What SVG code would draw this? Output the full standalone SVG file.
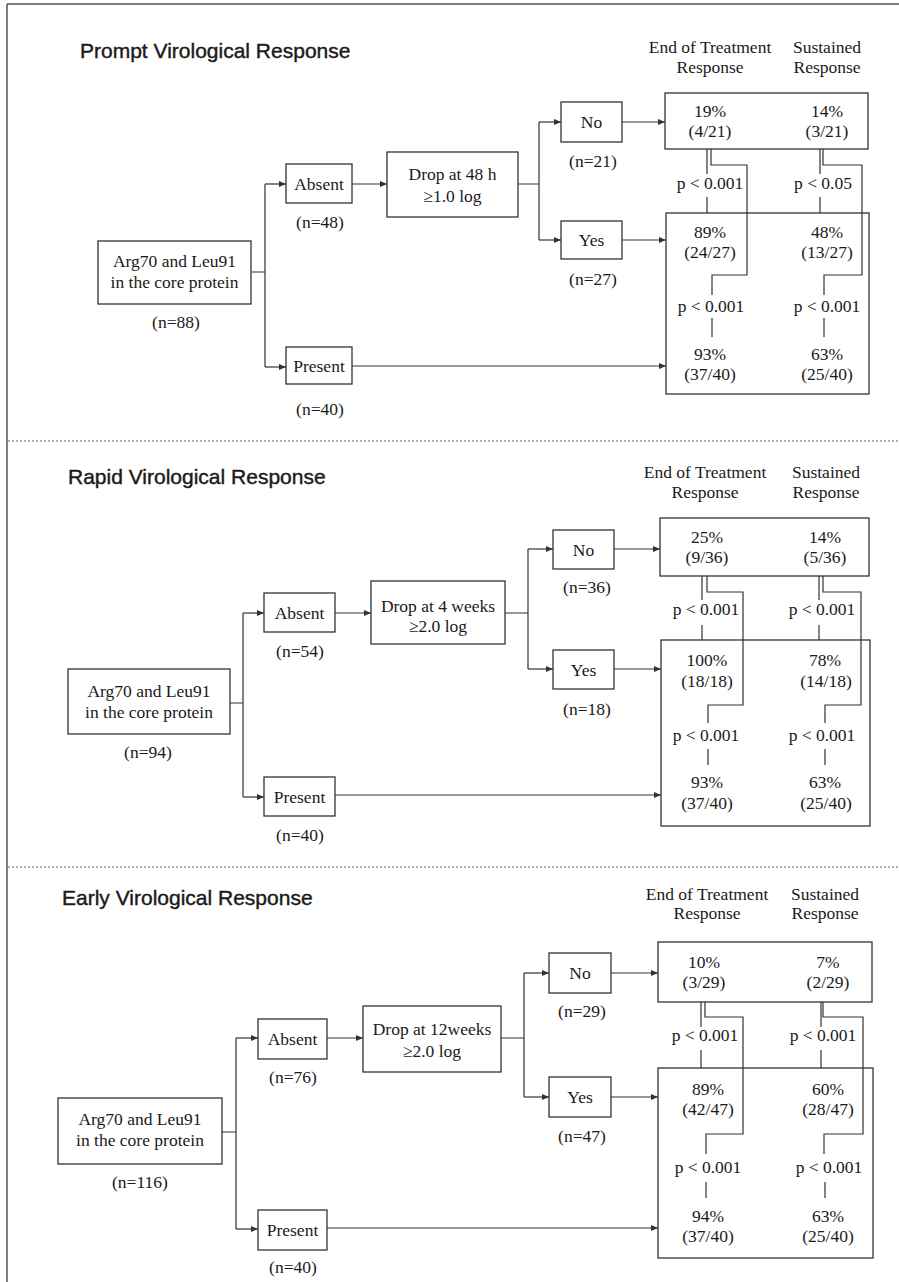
<svg xmlns="http://www.w3.org/2000/svg" width="899" height="1282" viewBox="0 0 899 1282">
<style>
.bx{fill:#fff;stroke:#333;stroke-width:1.3}
.ln{fill:none;stroke:#333;stroke-width:1.2}
.ar{fill:none;stroke:#333;stroke-width:1.2;marker-end:url(#ah)}
.t{font-family:"Liberation Serif","Times New Roman",serif;font-size:17.5px;fill:#1a1a1a;text-anchor:middle}
.ti{font-family:"Liberation Sans",Arial,sans-serif;font-size:21px;fill:#1a1a1a;stroke:#1a1a1a;stroke-width:0.4}
.sep{stroke:#666;stroke-width:1.2;stroke-dasharray:2 2}
</style>
<defs>
<marker id="ah" markerUnits="userSpaceOnUse" markerWidth="8" markerHeight="6" refX="7" refY="3" orient="auto">
<path d="M0,0 L7,3 L0,6 Z" fill="#333"/>
</marker>
</defs>
<rect width="899" height="1282" fill="#fff"/>
<g id="frame">
<line x1="7" y1="4" x2="7" y2="1282" stroke="#555" stroke-width="1.5"/>
<line x1="7" y1="4" x2="899" y2="4" stroke="#555" stroke-width="1.5"/>
<line class="sep" x1="8" y1="441" x2="899" y2="441"/>
<line class="sep" x1="8" y1="867" x2="899" y2="867"/>
</g>

<!-- ===== Panel 1 ===== -->
<g id="p1-title"><text class="ti" x="80" y="58">Prompt Virological Response</text></g>
<g id="p1-header">
<text class="t" x="710" y="53">End of Treatment</text><text class="t" x="710" y="73">Response</text>
<text class="t" x="827" y="53">Sustained</text><text class="t" x="827" y="73">Response</text>
</g>
<g id="p1-connectors">
<path class="ln" d="M251,272 H265 M265,184 V367 M518,184 H539 M539,122 V240"/>
<path class="ar" d="M265,184 H286"/>
<path class="ar" d="M265,367 H286"/>
<path class="ar" d="M352,184 H387"/>
<path class="ar" d="M539,122 H561"/>
<path class="ar" d="M539,240 H561"/>
<path class="ar" d="M622,122 H665"/>
<path class="ar" d="M622,240 H666"/>
<path class="ar" d="M352,366 H666"/>
<path class="ln" d="M707,149 V174 M707,197 V213 M711,149 V165 H747 V275 H712 V295 M712,318 V337"/>
<path class="ln" d="M820,149 V174 M820,197 V213 M823,149 V165 H862 V275 H824 V295 M824,318 V337"/>
</g>
<g id="p1-main"><rect class="bx" x="98" y="241" width="153" height="63"/>
<text class="t" x="174.5" y="267">Arg70 and Leu91</text><text class="t" x="174.5" y="288">in the core protein</text>
<text class="t" x="176" y="328">(n=88)</text></g>
<g id="p1-absent"><rect class="bx" x="286" y="164" width="66" height="39"/>
<text class="t" x="319" y="190">Absent</text><text class="t" x="320" y="228">(n=48)</text></g>
<g id="p1-present"><rect class="bx" x="286" y="347" width="66" height="37"/>
<text class="t" x="319" y="372">Present</text><text class="t" x="320" y="415">(n=40)</text></g>
<g id="p1-drop"><rect class="bx" x="387" y="152" width="131" height="65"/>
<text class="t" x="452.5" y="180">Drop at 48 h</text><text class="t" x="452.5" y="202">≥1.0 log</text></g>
<g id="p1-no"><rect class="bx" x="561" y="102" width="61" height="40"/>
<text class="t" x="591.5" y="128">No</text><text class="t" x="593" y="167">(n=21)</text></g>
<g id="p1-yes"><rect class="bx" x="561" y="221" width="61" height="38"/>
<text class="t" x="591.5" y="246">Yes</text><text class="t" x="593" y="285">(n=27)</text></g>
<g id="p1-out-no"><rect class="bx" x="665" y="93" width="203" height="56" style="fill:none"/>
<text class="t" x="710" y="117">19%</text><text class="t" x="710" y="137">(4/21)</text>
<text class="t" x="827" y="117">14%</text><text class="t" x="827" y="137">(3/21)</text></g>
<g id="p1-out-yes"><rect class="bx" x="666" y="213" width="203" height="181" style="fill:none"/>
<text class="t" x="710" y="238">89%</text><text class="t" x="710" y="258">(24/27)</text>
<text class="t" x="827" y="238">48%</text><text class="t" x="827" y="258">(13/27)</text>
<text class="t" x="710" y="360">93%</text><text class="t" x="710" y="380">(37/40)</text>
<text class="t" x="827" y="360">63%</text><text class="t" x="827" y="380">(25/40)</text></g>
<g id="p1-pvalues">
<text class="t" x="710" y="189">p &lt; 0.001</text><text class="t" x="823" y="189">p &lt; 0.05</text>
<text class="t" x="711" y="312">p &lt; 0.001</text><text class="t" x="827" y="312">p &lt; 0.001</text>
</g>

<!-- ===== Panel 2 ===== -->
<g id="p2-title"><text class="ti" x="68" y="484">Rapid Virological Response</text></g>
<g id="p2-header">
<text class="t" x="705" y="478">End of Treatment</text><text class="t" x="705" y="498">Response</text>
<text class="t" x="826" y="478">Sustained</text><text class="t" x="826" y="498">Response</text>
</g>
<g id="p2-connectors">
<path class="ln" d="M230,703 H243 M243,613 V797 M505,613 H528 M528,549 V669"/>
<path class="ar" d="M243,613 H264"/>
<path class="ar" d="M243,797 H264"/>
<path class="ar" d="M335,613 H371"/>
<path class="ar" d="M528,549 H553"/>
<path class="ar" d="M528,669 H553"/>
<path class="ar" d="M614,549 H660"/>
<path class="ar" d="M614,669 H661"/>
<path class="ar" d="M335,795 H661"/>
<path class="ln" d="M702,576 V600 M702,625 V640 M707,576 V592 H743 V705 H708 V723 M708,749 V765"/>
<path class="ln" d="M819,576 V600 M819,625 V640 M823,576 V592 H861 V705 H825 V723 M825,749 V765"/>
</g>
<g id="p2-main"><rect class="bx" x="68" y="669" width="162" height="65"/>
<text class="t" x="149" y="697">Arg70 and Leu91</text><text class="t" x="149" y="718">in the core protein</text>
<text class="t" x="148" y="758">(n=94)</text></g>
<g id="p2-absent"><rect class="bx" x="264" y="593" width="71" height="39"/>
<text class="t" x="299.5" y="619">Absent</text><text class="t" x="300" y="657">(n=54)</text></g>
<g id="p2-present"><rect class="bx" x="264" y="777" width="71" height="39"/>
<text class="t" x="299.5" y="803">Present</text><text class="t" x="300" y="841">(n=40)</text></g>
<g id="p2-drop"><rect class="bx" x="371" y="581" width="134" height="63"/>
<text class="t" x="438" y="612">Drop at 4 weeks</text><text class="t" x="438" y="632">≥2.0 log</text></g>
<g id="p2-no"><rect class="bx" x="553" y="530" width="61" height="39"/>
<text class="t" x="583.5" y="556">No</text><text class="t" x="587" y="593">(n=36)</text></g>
<g id="p2-yes"><rect class="bx" x="553" y="650" width="61" height="39"/>
<text class="t" x="583.5" y="676">Yes</text><text class="t" x="587" y="715">(n=18)</text></g>
<g id="p2-out-no"><rect class="bx" x="660" y="518" width="209" height="58" style="fill:none"/>
<text class="t" x="707" y="543">25%</text><text class="t" x="707" y="563">(9/36)</text>
<text class="t" x="825" y="543">14%</text><text class="t" x="825" y="563">(5/36)</text></g>
<g id="p2-out-yes"><rect class="bx" x="661" y="640" width="209" height="186" style="fill:none"/>
<text class="t" x="707" y="666">100%</text><text class="t" x="707" y="687">(18/18)</text>
<text class="t" x="825" y="666">78%</text><text class="t" x="826" y="687">(14/18)</text>
<text class="t" x="707" y="788">93%</text><text class="t" x="707" y="809">(37/40)</text>
<text class="t" x="825" y="788">63%</text><text class="t" x="826" y="809">(25/40)</text></g>
<g id="p2-pvalues">
<text class="t" x="706" y="615">p &lt; 0.001</text><text class="t" x="822" y="615">p &lt; 0.001</text>
<text class="t" x="706" y="741">p &lt; 0.001</text><text class="t" x="822" y="741">p &lt; 0.001</text>
</g>

<!-- ===== Panel 3 ===== -->
<g id="p3-title"><text class="ti" x="62" y="905">Early Virological Response</text></g>
<g id="p3-header">
<text class="t" x="707" y="900">End of Treatment</text><text class="t" x="707" y="919">Response</text>
<text class="t" x="825" y="900">Sustained</text><text class="t" x="825" y="919">Response</text>
</g>
<g id="p3-connectors">
<path class="ln" d="M222,1132 H236 M236,1038 V1229 M501,1038 H524 M524,973 V1097"/>
<path class="ar" d="M236,1038 H258"/>
<path class="ar" d="M236,1229 H258"/>
<path class="ar" d="M327,1038 H363"/>
<path class="ar" d="M524,973 H549"/>
<path class="ar" d="M524,1097 H549"/>
<path class="ar" d="M611,973 H658"/>
<path class="ar" d="M611,1097 H658"/>
<path class="ar" d="M327,1228 H658"/>
<path class="ln" d="M701,1002 V1027 M701,1050 V1068 M705,1002 V1017 H743 V1134 H706 V1154 M706,1182 V1198"/>
<path class="ln" d="M821,1002 V1027 M821,1050 V1068 M823,1002 V1017 H863 V1134 H824 V1154 M825,1182 V1198"/>
</g>
<g id="p3-main"><rect class="bx" x="58" y="1098" width="164" height="66"/>
<text class="t" x="140" y="1125">Arg70 and Leu91</text><text class="t" x="140" y="1146">in the core protein</text>
<text class="t" x="140" y="1188">(n=116)</text></g>
<g id="p3-absent"><rect class="bx" x="258" y="1019" width="69" height="40"/>
<text class="t" x="292.5" y="1045">Absent</text><text class="t" x="293" y="1083">(n=76)</text></g>
<g id="p3-present"><rect class="bx" x="258" y="1210" width="69" height="40"/>
<text class="t" x="292.5" y="1236">Present</text><text class="t" x="293" y="1273">(n=40)</text></g>
<g id="p3-drop"><rect class="bx" x="363" y="1006" width="138" height="66"/>
<text class="t" x="432" y="1035">Drop at 12weeks</text><text class="t" x="432" y="1057">≥2.0 log</text></g>
<g id="p3-no"><rect class="bx" x="549" y="953" width="62" height="40"/>
<text class="t" x="580" y="979">No</text><text class="t" x="582" y="1017">(n=29)</text></g>
<g id="p3-yes"><rect class="bx" x="549" y="1077" width="62" height="40"/>
<text class="t" x="580" y="1103">Yes</text><text class="t" x="582" y="1142">(n=47)</text></g>
<g id="p3-out-no"><rect class="bx" x="658" y="942" width="214" height="60" style="fill:none"/>
<text class="t" x="704" y="968">10%</text><text class="t" x="704" y="988">(3/29)</text>
<text class="t" x="828" y="968">7%</text><text class="t" x="828" y="988">(2/29)</text></g>
<g id="p3-out-yes"><rect class="bx" x="658" y="1068" width="215" height="190" style="fill:none"/>
<text class="t" x="708" y="1095">89%</text><text class="t" x="708" y="1115">(42/47)</text>
<text class="t" x="828" y="1095">60%</text><text class="t" x="828" y="1115">(28/47)</text>
<text class="t" x="708" y="1222">94%</text><text class="t" x="708" y="1242">(37/40)</text>
<text class="t" x="828" y="1222">63%</text><text class="t" x="828" y="1242">(25/40)</text></g>
<g id="p3-pvalues">
<text class="t" x="705" y="1041">p &lt; 0.001</text><text class="t" x="823" y="1041">p &lt; 0.001</text>
<text class="t" x="708" y="1173">p &lt; 0.001</text><text class="t" x="829" y="1173">p &lt; 0.001</text>
</g>
</svg>
